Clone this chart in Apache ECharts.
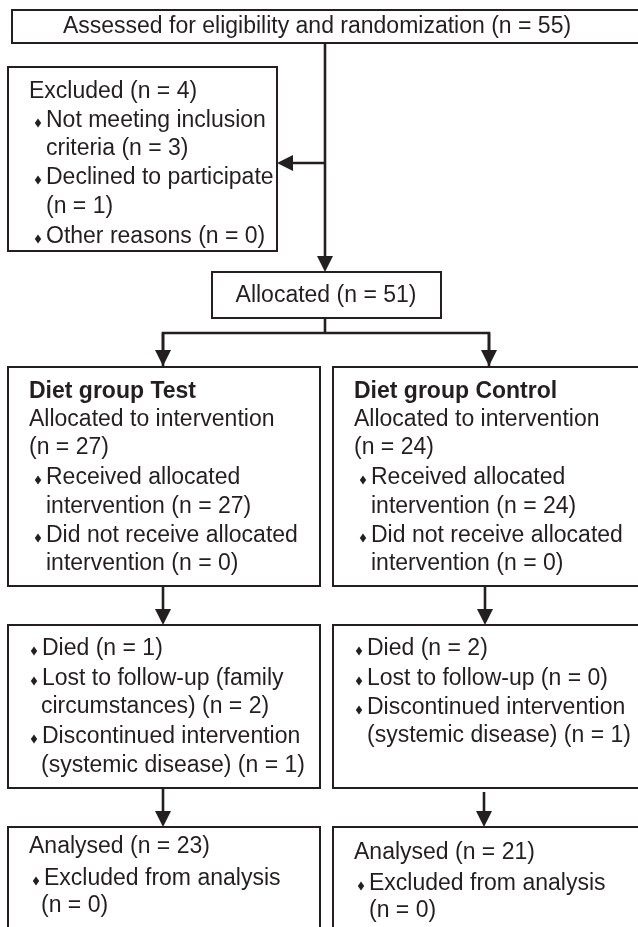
<!DOCTYPE html>
<html>
<head>
<meta charset="utf-8">
<script src="https://cdn.jsdelivr.net/npm/echarts@6/dist/echarts.min.js"></script>
<style>
  html, body { margin: 0; padding: 0; background: #fff; }
  #flow { width: 638px; height: 927px; }
</style>
</head>
<body>
<div id="flow"></div>
<script>
// counts
const assessedN = 55;
const excludedN = 4;
const excludedCounts = [3, 1, 0]; // not meeting criteria, declined, other
const allocatedN = 51;
const groupNames = ["Diet group Test", "Diet group Control"];
const allocatedToIntervention = [27, 24];
const receivedAllocated = [27, 24];
const notReceived = [0, 0];
const died = [1, 2];
const lostFollowUp = [2, 0];
const discontinued = [1, 1];
const analysed = [23, 21];
const excludedAnalysis = [0, 0];

const INK = "#231f20";
const FONT = "Liberation Sans, Arial, Helvetica, sans-serif";
const FS = 23;

// box layout (diagram units == pixels of the 638x927 page)
// line kinds: h = header, hb = bold header, b = bullet, c = continuation
const boxes = [
  { x: 12, y: 10, w: 640, h: 33, center: [317, 27],
    lines: [["h", "Assessed for eligibility and randomization (n = " + assessedN + ")"]] },
  { x: 8, y: 67, w: 269, h: 184, hx: 29, bx: 38, tx: 46, cx: 46,
    ys: [92, 121, 149, 178, 207, 237],
    lines: [
      ["h", "Excluded (n = " + excludedN + ")"],
      ["b", "Not meeting inclusion"],
      ["c", "criteria (n = " + excludedCounts[0] + ")"],
      ["b", "Declined to participate"],
      ["c", "(n = " + excludedCounts[1] + ")"],
      ["b", "Other reasons (n = " + excludedCounts[2] + ")"]
    ] },
  { x: 212, y: 272, w: 229, h: 46, center: [326, 296],
    lines: [["h", "Allocated (n = " + allocatedN + ")"]] },
  { x: 8, y: 367, w: 312, h: 219, hx: 29, bx: 38, tx: 46, cx: 46,
    ys: [392, 420, 448, 478, 507, 536, 564],
    lines: [
      ["hb", groupNames[0]],
      ["h", "Allocated to intervention"],
      ["h", "(n = " + allocatedToIntervention[0] + ")"],
      ["b", "Received allocated"],
      ["c", "intervention (n = " + receivedAllocated[0] + ")"],
      ["b", "Did not receive allocated"],
      ["c", "intervention (n = " + notReceived[0] + ")"]
    ] },
  { x: 333, y: 367, w: 320, h: 219, hx: 354, bx: 363, tx: 371, cx: 371,
    ys: [392, 420, 448, 478, 507, 536, 564],
    lines: [
      ["hb", groupNames[1]],
      ["h", "Allocated to intervention"],
      ["h", "(n = " + allocatedToIntervention[1] + ")"],
      ["b", "Received allocated"],
      ["c", "intervention (n = " + receivedAllocated[1] + ")"],
      ["b", "Did not receive allocated"],
      ["c", "intervention (n = " + notReceived[1] + ")"]
    ] },
  { x: 8, y: 625, w: 312, h: 163, bx: 34, tx: 42, cx: 41,
    ys: [649, 679, 707, 737, 766],
    lines: [
      ["b", "Died (n = " + died[0] + ")"],
      ["b", "Lost to follow-up (family"],
      ["c", "circumstances) (n = " + lostFollowUp[0] + ")"],
      ["b", "Discontinued intervention"],
      ["c", "(systemic disease) (n = " + discontinued[0] + ")"]
    ] },
  { x: 333, y: 625, w: 320, h: 163, bx: 359, tx: 367, cx: 367,
    ys: [649, 679, 708, 736],
    lines: [
      ["b", "Died (n = " + died[1] + ")"],
      ["b", "Lost to follow-up (n = " + lostFollowUp[1] + ")"],
      ["b", "Discontinued intervention"],
      ["c", "(systemic disease) (n = " + discontinued[1] + ")"]
    ] },
  { x: 8, y: 827, w: 312, h: 130, hx: 29, bx: 36, tx: 44, cx: 41,
    ys: [847, 879, 906],
    lines: [
      ["h", "Analysed (n = " + analysed[0] + ")"],
      ["b", "Excluded from analysis"],
      ["c", "(n = " + excludedAnalysis[0] + ")"]
    ] },
  { x: 333, y: 827, w: 320, h: 130, hx: 354, bx: 361, tx: 369, cx: 369,
    ys: [853, 884, 911],
    lines: [
      ["h", "Analysed (n = " + analysed[1] + ")"],
      ["b", "Excluded from analysis"],
      ["c", "(n = " + excludedAnalysis[1] + ")"]
    ] }
];

// connectors: polyline points, arrow head at the last point when head is true
const links = [
  { pts: [[325, 43], [325, 272]], head: true },
  { pts: [[325, 163], [277, 163]], head: true },
  { pts: [[325, 318], [325, 333]], head: false },
  { pts: [[163, 366], [163, 333], [489, 333], [489, 366]], head: false },
  { pts: [[163, 333], [163, 366]], head: true },
  { pts: [[489, 333], [489, 366]], head: true },
  { pts: [[163, 586], [163, 625]], head: true },
  { pts: [[485, 586], [485, 625]], head: true },
  { pts: [[163, 788], [163, 827]], head: true },
  { pts: [[484, 792], [484, 827]], head: true }
];

const chart = echarts.init(document.getElementById("flow"));

function renderBox(params, api) {
  const b = boxes[params.dataIndex];
  const p = api.coord([b.x, b.y]);
  const s = api.size([b.w, b.h]);
  const children = [{
    type: "rect",
    shape: { x: p[0], y: p[1], width: s[0], height: s[1] },
    style: { fill: "#fff", stroke: INK, lineWidth: 2 }
  }];
  if (b.center) {
    const c = api.coord(b.center);
    children.push({
      type: "text",
      style: { text: b.lines[0][1], x: c[0], y: c[1], fill: INK,
        font: FS + "px " + FONT, align: "center", verticalAlign: "middle" }
    });
    return { type: "group", children: children };
  }
  b.lines.forEach(function (ln, i) {
    const kind = ln[0];
    let tx = kind === "b" ? b.tx : kind === "c" ? b.cx : b.hx;
    const pt = api.coord([tx, b.ys[i]]);
    if (kind === "b") {
      const d = api.coord([b.bx, b.ys[i] + 2]);
      children.push({
        type: "polygon",
        shape: { points: [[d[0], d[1] - 4.5], [d[0] + 3.2, d[1]], [d[0], d[1] + 4.5], [d[0] - 3.2, d[1]]] },
        style: { fill: INK }
      });
    }
    children.push({
      type: "text",
      style: { text: ln[1], x: pt[0], y: pt[1], fill: INK,
        font: (kind === "hb" ? "bold " : "") + FS + "px " + FONT,
        align: "left", verticalAlign: "middle" }
    });
  });
  return { type: "group", children: children };
}

function renderLink(params, api) {
  const l = links[params.dataIndex];
  const pts = l.pts.map(function (q) { return api.coord(q); });
  const children = [];
  let linePts = pts.slice();
  if (l.head) {
    const a = pts[pts.length - 2], t = pts[pts.length - 1];
    const dx = t[0] - a[0], dy = t[1] - a[1];
    const len = Math.sqrt(dx * dx + dy * dy);
    const ux = dx / len, uy = dy / len;
    const hl = 16, hw = 8;
    const base = [t[0] - ux * hl, t[1] - uy * hl];
    linePts[linePts.length - 1] = [base[0] + ux * 1, base[1] + uy * 1];
    children.push({
      type: "polygon",
      shape: { points: [t, [base[0] - uy * hw, base[1] + ux * hw], [base[0] + uy * hw, base[1] - ux * hw]] },
      style: { fill: INK }
    });
  }
  children.unshift({
    type: "polyline",
    shape: { points: linePts },
    style: { stroke: INK, lineWidth: 2.6, fill: null, lineJoin: "miter", lineCap: "butt" }
  });
  return { type: "group", children: children };
}

chart.setOption({
  animation: false,
  grid: { left: 0, right: 0, top: 0, bottom: 0 },
  xAxis: { type: "value", min: 0, max: 638, show: false },
  yAxis: { type: "value", min: 0, max: 927, inverse: true, show: false },
  series: [
    {
      type: "custom",
      clip: false,
      renderItem: renderLink,
      data: links.map(function (l) { return [l.pts[0][0], l.pts[0][1]]; }),
      silent: true
    },
    {
      type: "custom",
      clip: false,
      renderItem: renderBox,
      data: boxes.map(function (b) { return [b.x, b.y]; }),
      silent: true
    }
  ]
});
</script>
</body>
</html>
